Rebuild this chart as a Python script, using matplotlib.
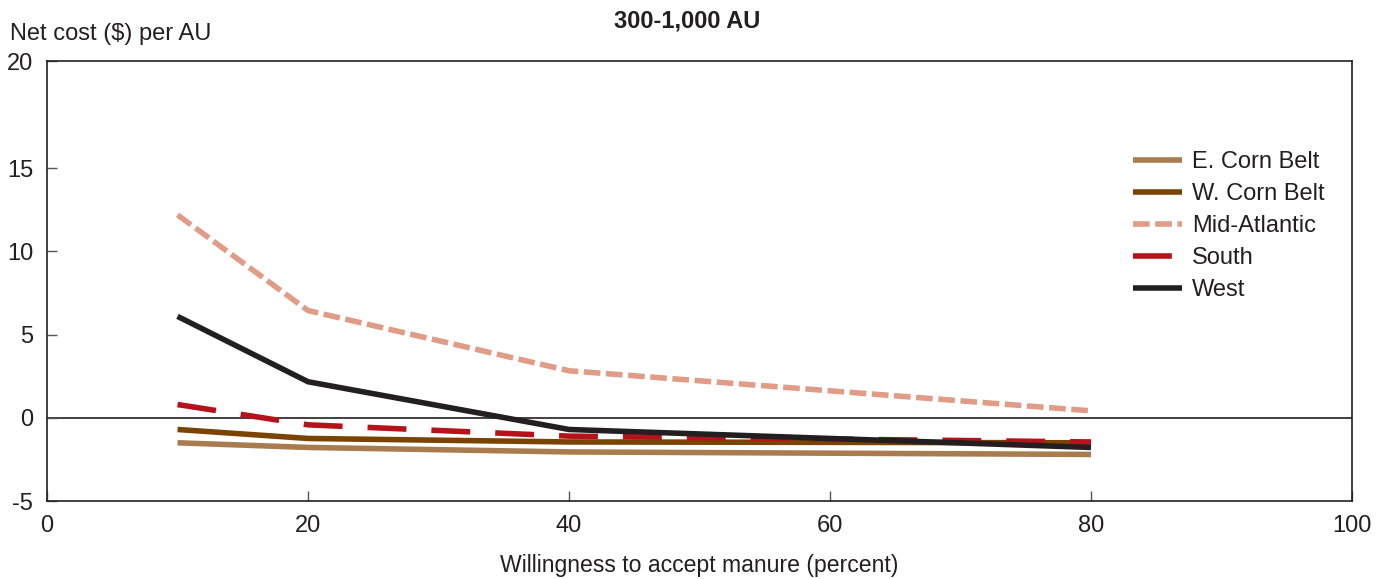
import matplotlib.pyplot as plt
import numpy as np

plt.rcParams['font.family'] = ['Liberation Sans', 'DejaVu Sans']

x = [10, 20, 40, 80]
e_corn = [-1.5, -1.78, -2.05, -2.2]
w_corn = [-0.7, -1.24, -1.45, -1.5]
mid_atl = [12.2, 6.45, 2.83, 0.42]
south = [0.8, -0.42, -1.1, -1.45]
west = [6.1, 2.17, -0.7, -1.78]

ytop = 21.45

fig = plt.figure(figsize=(13.83, 5.79), dpi=100)
ax = fig.add_axes([0.034, 0.1347, 0.9436, 0.7599])

ax.axhline(0, color='#231F20', lw=1.2, zorder=1)
ax.plot(x, e_corn, color='#A97C50', lw=4, label='E. Corn Belt', solid_capstyle='butt')
ax.plot(x, w_corn, color='#7A4400', lw=4, label='W. Corn Belt', solid_capstyle='butt')
ax.plot(x, mid_atl, color='#E09C86', lw=4, dashes=(3, 1), label='Mid-Atlantic')
ax.plot(x, south, color='#B5121B', lw=4, dashes=(7, 4.5), label='South')
ax.plot(x, west, color='#231F20', lw=4, label='West', solid_capstyle='butt')

ax.set_xlim(0, 100)
ax.set_ylim(-5, ytop)
ax.set_xticks([0, 20, 40, 60, 80, 100])
ax.set_yticks([-5, 0, 5, 10, 15, ytop])
ax.set_yticklabels(['-5', '0', '5', '10', '15', '20'])
ax.tick_params(direction='in', length=7, width=1, color='#555555',
               labelsize=17, labelcolor='#231F20')
ax.tick_params(axis='x', pad=10)
ax.tick_params(axis='y', pad=10)
for s in ax.spines.values():
    s.set_color('#231F20')
    s.set_linewidth(1.2)

ax.set_xlabel('Willingness to accept manure (percent)', fontsize=16.6, color='#231F20', labelpad=12)
fig.text(0.007, 0.942, 'Net cost ($) per AU', fontsize=17, color='#231F20', va='center')
fig.text(0.497, 0.963, '300-1,000 AU', fontsize=17, fontweight='bold', color='#231F20',
         ha='center', va='center')

fig.legend(loc='upper left', bbox_to_anchor=(0.8105, 0.759), frameon=False, fontsize=17,
           handlelength=2.1, handletextpad=0.42, labelspacing=0.42, borderpad=0,
           labelcolor='#231F20')

fig.savefig('out.png', dpi=100)
